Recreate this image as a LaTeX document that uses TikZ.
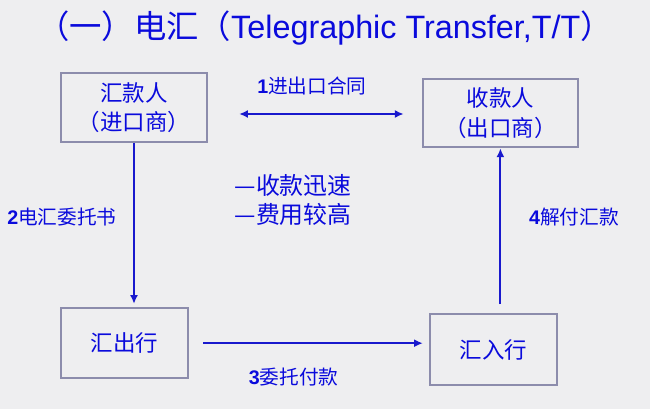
\documentclass[tikz,border=0pt]{standalone}
\usepackage{fontspec}
\setmainfont{Liberation Sans}
\newfontfamily\cjk{Noto Sans CJK SC}
\usetikzlibrary{arrows.meta,positioning}
\definecolor{slidebg}{RGB}{238,238,240}
\definecolor{inkblue}{RGB}{10,10,220}
\definecolor{arrowblue}{RGB}{25,25,205}
\definecolor{framegray}{RGB}{140,140,172}
\newcommand{\zh}[1]{{\cjk #1}}

\begin{document}
\begin{tikzpicture}[
  box/.style={draw=framegray,line width=1.6pt,inner sep=0pt,align=center,
    text=inkblue,font=\fontsize{16}{21}\selectfont\cjk},
  lbl/.style={text=inkblue,font=\fontsize{14}{17}\selectfont},
  arr/.style={-{Latex[length=2.2mm,width=2mm]},arrowblue,line width=1.3pt},
  darr/.style={{Latex[length=2.2mm,width=2mm]}-{Latex[length=2.2mm,width=2mm]},
    arrowblue,line width=1.3pt}
]
\fill[slidebg] (0,0) rectangle (16.25,-10.225);
\useasboundingbox (0,0) rectangle (16.25,-10.225);

\node[text=inkblue,font=\fontsize{23}{27}\selectfont]
  (title) at (8.125,-0.7) {\zh{（一）电汇（}Telegraphic Transfer,T/T\zh{）}};

\node[box,minimum width=3.65cm,minimum height=1.72cm]
  (payer) at (3.35,-2.69) {汇款人\\（进口商）};
\node[box,minimum width=3.88cm,minimum height=1.7cm]
  (payee) at (12.51,-2.83) {收款人\\（出口商）};
\node[box,minimum width=3.18cm,minimum height=1.75cm]
  (remitbank) at (3.11,-8.58) {汇出行};
\node[box,minimum width=3.18cm,minimum height=1.78cm]
  (paybank) at (12.34,-8.74) {汇入行};

\draw[darr,shorten <=0.775cm,shorten >=0.45cm]
  ([yshift=-0.16cm]payer.east) -- ([yshift=-0.16cm]payer.east -| payee.west);
\draw[arr,shorten >=0.08cm] (payer.south) -- (payer.south |- remitbank.north);
\draw[arr,shorten <=0.35cm,shorten >=0.15cm]
  (remitbank.east) -- (remitbank.east -| paybank.west);
\draw[arr,shorten <=0.22cm] (payee.south |- paybank.north) -- (payee.south);

\node[lbl] (step1) at (7.8,-2.15) {\textbf{1}\zh{进出口合同}};
\node[lbl] (step2) at (1.55,-5.43) {\textbf{2}\zh{电汇委托书}};
\node[lbl] (step3) at (7.34,-9.43) {\textbf{3}\zh{委托付款}};
\node[lbl] (step4) at (14.35,-5.43) {\textbf{4}\zh{解付汇款}};

\node[text=inkblue,font=\fontsize{17}{21}\selectfont\cjk,align=left]
  (note) at (7.33,-5.0) {—收款迅速\\—费用较高};
\end{tikzpicture}
\end{document}
